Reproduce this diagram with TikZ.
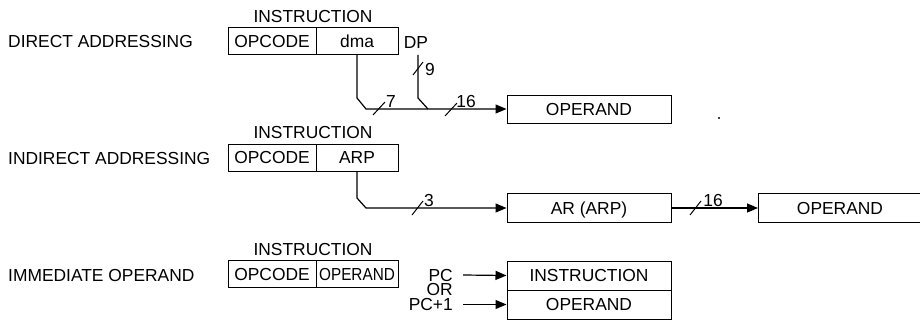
\documentclass[tikz,border=0pt]{standalone}
\usepackage{fontspec}
\usepackage{graphicx}
\setmainfont{Liberation Sans}
\usetikzlibrary{arrows.meta}
\begin{document}
\begin{tikzpicture}[x=1pt,y=-1pt,
  every node/.style={font=\fontsize{17.4}{20}\selectfont, inner sep=0pt, text height=12.5pt, text depth=0pt},
  lbl/.style={anchor=west},
  cell/.style={draw, line width=1pt, minimum height=27pt},
  wire/.style={line width=1.2pt},
  arr/.style={wire, -{Triangle[length=11pt,width=9pt]}},
  tick/.style={line width=1pt}]
\useasboundingbox (0,0) rectangle (920,321);

% ---------- row 1: direct addressing
\node[lbl] (t1) at (8,41) {DIRECT ADDRESSING};
\node (i1) at (313,16) {INSTRUCTION};
\node[cell, minimum width=88pt] (oc1) at (272,41) {OPCODE};
\node[cell, minimum width=82pt] (dma) at (357,41) {dma};
\node (dp) at (416,42) {DP};
\node[cell, minimum width=164pt, minimum height=28pt] (opA) at (589,109) {OPERAND};
\coordinate (j1) at (357,98);
\coordinate (j2) at (366,109);
\coordinate (dpa) at (418,55);
\coordinate (dpb) at (418,98);
\coordinate (dpc) at (428,109);
\draw[arr] (dma.south) -- (j1) -- (j2) -- (opA.west);
\draw[wire] (dpa) -- (dpb) -- (dpc);
\draw[tick] (413,75) -- (423,62);
\node (n9) at (430,69) {9};
\draw[tick] (373,115) -- (385,102);
\node (n7) at (391,101) {7};
\draw[tick] (445,116) -- (457,103);
\node (n16a) at (466,101) {16};
\fill (719,118) circle (1.2pt);

% ---------- row 2: indirect addressing
\node[lbl] (t2) at (8,158) {INDIRECT ADDRESSING};
\node (i2) at (313,132) {INSTRUCTION};
\node[cell, minimum width=88pt] (oc2) at (272,157.5) {OPCODE};
\node[cell, minimum width=82pt] (arp) at (357,157.5) {ARP};
\node[cell, minimum width=164pt, minimum height=29pt] (ar) at (589,208) {AR (ARP)};
\node (opB) at (840,208) {OPERAND};
\coordinate (k1) at (357,198);
\coordinate (k2) at (366,208);
\coordinate (opBw) at (758,208);
\draw[arr] (arp.south) -- (k1) -- (k2) -- (ar.west);
\draw[line width=1pt] (920,193.5) -- (758,193.5) -- (758,222.5) -- (920,222.5);
\draw[arr] (ar.east) -- (opBw);
\draw[tick] (412,215) -- (423,201);
\node (n3) at (429,200) {3};
\draw[tick] (690,215) -- (701,201);
\node (n16b) at (713,200) {16};

% ---------- row 3: immediate operand
\node[lbl] (t3) at (8,275) {IMMEDIATE OPERAND};
\node (i3) at (313,249) {INSTRUCTION};
\node[cell, minimum width=88pt] (oc3) at (272,274) {OPCODE};
\node[cell, minimum width=82pt] (opr3) at (357,274) {\scalebox{0.88}[1]{OPERAND}};
\node[cell, minimum width=164pt, minimum height=29pt] (s1) at (589,275.5) {INSTRUCTION};
\node[cell, minimum width=164pt, minimum height=29pt] (s2) at (589,304.5) {OPERAND};
\node[anchor=east] (pc) at (453,275) {PC};
\node[anchor=east] (or) at (453,289.5) {OR};
\node[anchor=east] (pc1) at (453,304) {PC+1};
\draw[arr] ([xshift=10pt]pc.east) -- (s1.west);
\draw[arr] ([xshift=10pt]pc1.east |- s2.west) -- (s2.west);
\end{tikzpicture}
\end{document}
